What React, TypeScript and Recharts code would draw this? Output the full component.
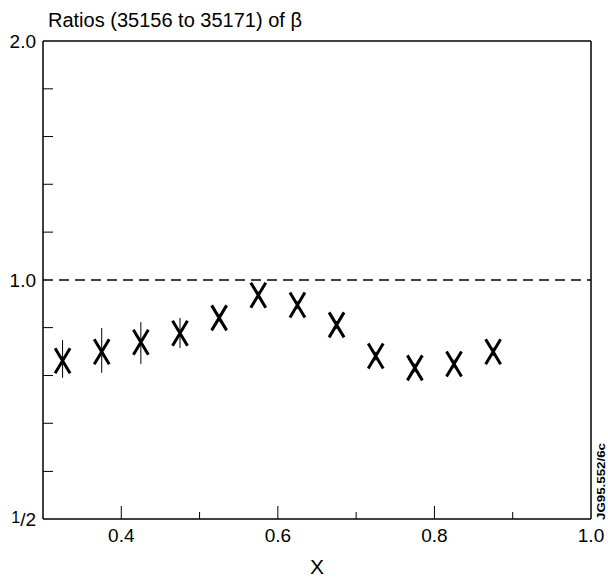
import { ErrorBar, ReferenceLine, Scatter, ScatterChart, XAxis, YAxis } from "recharts";

// x bin centres and measured ratios
const xBins = [0.325, 0.375, 0.425, 0.475, 0.525, 0.575, 0.625, 0.675, 0.725, 0.775, 0.825, 0.875];
const ratios = [0.791, 0.812, 0.835, 0.857, 0.896, 0.957, 0.93, 0.878, 0.802, 0.775, 0.784, 0.812];
const ratioLow = [0.753, 0.764, 0.784, 0.821, 0.886, 0.947, 0.92, 0.868, 0.792, 0.765, 0.774, 0.802];
const ratioHigh = [0.84, 0.87, 0.885, 0.896, 0.906, 0.967, 0.94, 0.888, 0.812, 0.785, 0.794, 0.822];

const xTicks = [0.4, 0.5, 0.6, 0.7, 0.8, 0.9, 1.0];
const xMajor = [0.4, 0.6, 0.8, 1.0];
// log-spaced minor ticks between 1/2 and 2
const yTicks = [0.5, 0.574, 0.66, 0.758, 0.871, 1, 1.149, 1.32, 1.516, 1.741, 2];
const yMinor = [0.574, 0.66, 0.758, 0.871, 1.149, 1.32, 1.516, 1.741];

const data = xBins.map((x, i) => ({
  x,
  r: ratios[i],
  err: [ratios[i] - ratioLow[i], ratioHigh[i] - ratios[i]],
}));

const FONT = "'Liberation Sans', Arial, Helvetica, sans-serif";

function Cross({ cx, cy }: any) {
  return (
    <path
      d={`M${cx - 7.5},${cy - 12.5}L${cx + 7.5},${cy + 12.5}M${cx + 7.5},${cy - 12.5}L${cx - 7.5},${cy + 12.5}`}
      stroke="#000"
      strokeWidth={3}
      fill="none"
    />
  );
}

function XTick({ x, y, payload }: any) {
  const v = payload.value;
  const major = xMajor.some((m) => Math.abs(m - v) < 1e-6);
  if (v >= 0.999) {
    return (
      <text x={x} y={y + 23} textAnchor="middle" fontSize={19} fontFamily={FONT} fill="#000">
        1.0
      </text>
    );
  }
  return (
    <g>
      <line x1={x} x2={x} y1={y} y2={y - (major ? 13 : 7)} stroke="#000" strokeWidth={1} />
      {major && (
        <text x={x} y={y + 23} textAnchor="middle" fontSize={19} fontFamily={FONT} fill="#000">
          {v.toFixed(1)}
        </text>
      )}
    </g>
  );
}

function YTick({ x, y, payload }: any) {
  const v = payload.value;
  const minor = yMinor.some((m) => Math.abs(m - v) < 1e-3);
  let label: any = null;
  if (Math.abs(v - 2) < 1e-6) label = "2.0";
  if (Math.abs(v - 1) < 1e-6) label = "1.0";
  if (Math.abs(v - 0.5) < 1e-6)
    label = (
      <>
        <tspan fontSize={16} dy={-3}>1</tspan>
        <tspan dy={3}>/2</tspan>
      </>
    );
  return (
    <g>
      {minor && <line x1={x} x2={x + 10} y1={y} y2={y} stroke="#000" strokeWidth={1} />}
      {label && (
        <text x={x - 7} y={y + 7} textAnchor="end" fontSize={19} fontFamily={FONT} fill="#000">
          {label}
        </text>
      )}
    </g>
  );
}

export default function App() {
  return (
    <div style={{ position: "absolute", left: 0, top: 0, width: 608, height: 582, background: "#fff" }}>
      <ScatterChart width={608} height={582} margin={{ top: 41, right: 17, bottom: 0, left: 0 }}>
        <XAxis
          type="number"
          dataKey="x"
          domain={[0.3, 1.0]}
          ticks={xTicks}
          interval={0}
          height={63}
          tickSize={0}
          tickMargin={0}
          tickLine={false}
          tick={<XTick />}
          axisLine={{ stroke: "#000", strokeWidth: 1.5 }}
        />
        <YAxis
          type="number"
          dataKey="r"
          scale="log"
          domain={[0.5, 2]}
          ticks={yTicks}
          interval={0}
          width={43}
          tickSize={0}
          tickMargin={0}
          tickLine={false}
          tick={<YTick />}
          axisLine={{ stroke: "#000", strokeWidth: 1.5 }}
        />
        {/* frame: top and right edges */}
        <ReferenceLine y={2} stroke="#000" strokeWidth={1.5} />
        <ReferenceLine x={1} stroke="#000" strokeWidth={1.5} />
        <ReferenceLine y={1} stroke="#000" strokeWidth={1.5} strokeDasharray="10 6" />
        <Scatter data={data} dataKey="r" shape={<Cross />} isAnimationActive={false}>
          <ErrorBar dataKey="err" direction="y" width={0} stroke="#000" strokeWidth={1} />
        </Scatter>
      </ScatterChart>
      <div
        style={{
          position: "absolute",
          left: 48,
          top: 9,
          fontFamily: FONT,
          fontSize: 20,
          lineHeight: "23px",
          whiteSpace: "nowrap",
        }}
      >
        Ratios (35156 to 35171) of β
      </div>
      <div
        style={{
          position: "absolute",
          left: 297,
          width: 40,
          top: 555,
          textAlign: "center",
          fontFamily: FONT,
          fontSize: 21,
          lineHeight: "24px",
        }}
      >
        X
      </div>
      <svg width={608} height={582} style={{ position: "absolute", left: 0, top: 0, pointerEvents: "none" }}>
        <text
          x={0}
          y={0}
          transform="translate(605,520) rotate(-90)"
          fontFamily={FONT}
          fontSize={11}
          fontWeight="bold"
          textLength={77}
          lengthAdjust="spacingAndGlyphs"
        >
          JG95.552/6c
        </text>
      </svg>
    </div>
  );
}
